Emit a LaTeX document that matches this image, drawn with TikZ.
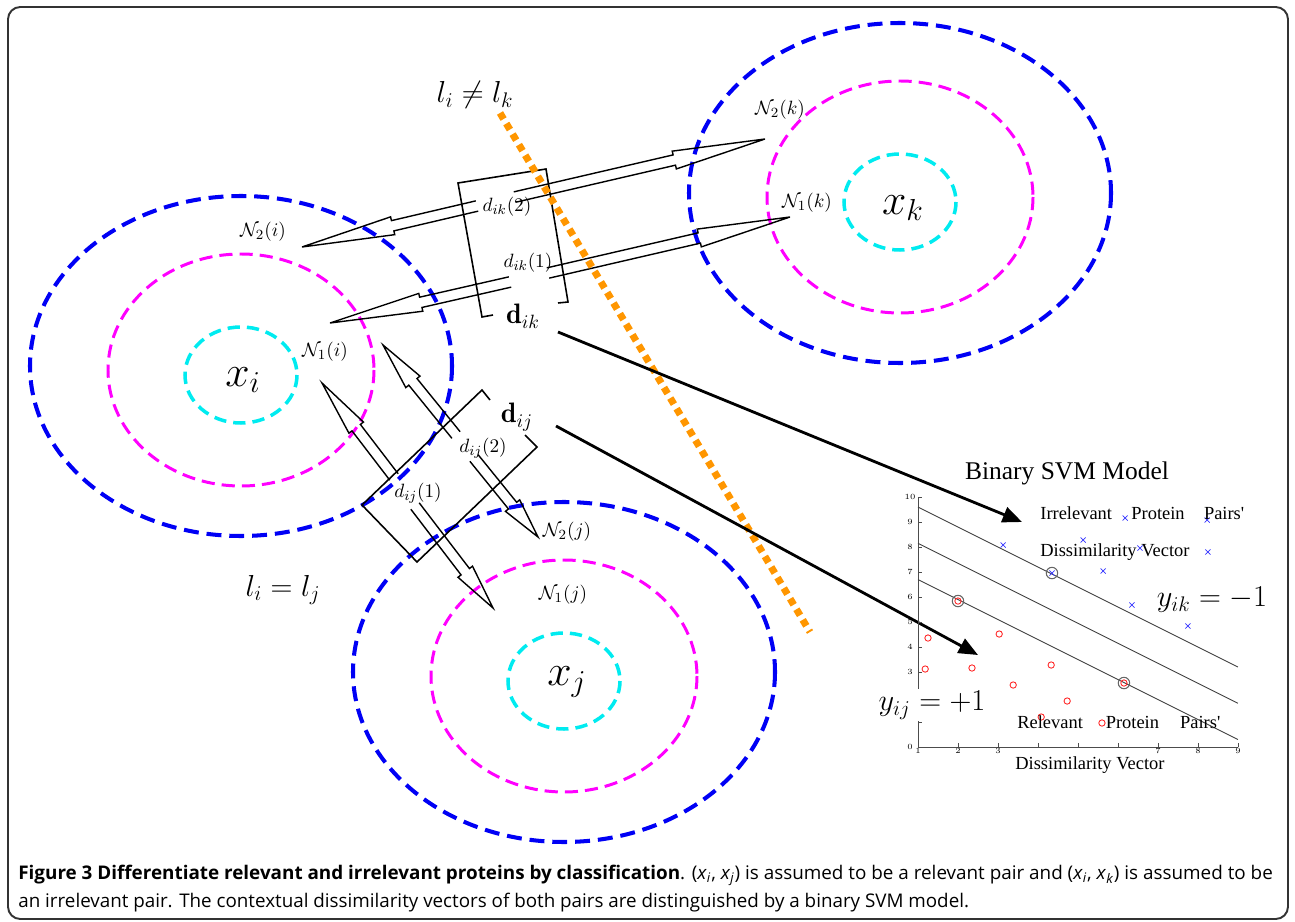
\documentclass[tikz,border=0pt]{standalone}
\usepackage{amsmath, amssymb}
\usepackage{graphicx}
\usepackage{fontspec}
\newfontfamily\svmfont{Liberation Serif}
\newfontfamily\capfont{Open Sans}
\usepackage{tikz}
\usetikzlibrary{calc, arrows.meta, shapes.misc}

\definecolor{nbblue}{RGB}{0,0,245}
\definecolor{nbmag}{RGB}{255,0,255}
\definecolor{nbcyan}{RGB}{0,235,240}
\definecolor{cutorange}{RGB}{255,150,0}

% one half of a hollow double arrow: shaft end, tip, head length
\newcommand{\openhead}[3]{%
  \coordinate (hb) at ($(#2)!#3!(#1)$);
  \draw[shaft] ($(#1)!3pt!90:(#2)$) -- ($(hb)!3pt!90:(#2)$) -- ($(hb)!5.2pt!90:(#2)$) -- (#2)
    -- ($(hb)!5.2pt!-90:(#2)$) -- ($(hb)!3pt!-90:(#2)$) -- ($(#1)!3pt!-90:(#2)$);}

\begin{document}
\begin{tikzpicture}[x=0.02cm, y=-0.02cm,
    outer/.style={nbblue, line width=2.3pt, dash pattern=on 8.5pt off 4.5pt},
    middle/.style={nbmag, line width=1.7pt, dash pattern=on 7.5pt off 4pt},
    inner/.style={nbcyan, line width=2pt, dash pattern=on 7pt off 4pt},
    centre/.style={font=\fontsize{25}{28}\selectfont},
    lbl/.style={inner sep=1pt, font=\fontsize{11}{13}\selectfont},
    vec/.style={inner sep=1pt, font=\fontsize{16}{18}\selectfont},
    rule/.style={font=\fontsize{17}{20}\selectfont},
    shaft/.style={line width=0.8pt},
    bracket/.style={line width=0.9pt},
    cut/.style={cutorange, line width=4pt, dash pattern=on 4pt off 3pt},
    mapto/.style={line width=1.6pt, -{Triangle[length=11pt,width=9pt]}},
    irr/.style={cross out, draw=blue!80, minimum size=2.5pt, inner sep=0pt, line width=0.4pt},
    rel/.style={circle, draw=red!85, minimum size=3.6pt, inner sep=0pt, line width=0.5pt},
    sv/.style={circle, draw=black!60, minimum size=6.5pt, inner sep=0pt, line width=0.6pt},
    tick/.style={inner sep=0pt, font=\fontsize{4.5}{5}\selectfont},
    svmtext/.style={inner sep=0pt, anchor=west, font=\svmfont\fontsize{10.5}{12}\selectfont},
    label/.style={fill=white, inner sep=1pt, font=\fontsize{17.5}{20}\selectfont}]
\useasboundingbox (0,0) rectangle (1295,922);

% neighbourhoods
\foreach \cx/\cy in {241/370, 900/197, 564/676} {
  \draw[outer] (\cx,\cy-4) ellipse [x radius=211, y radius=170];
  \draw[middle] (\cx,\cy) ellipse [x radius=133, y radius=116];
  \draw[inner] (\cx,\cy+5) ellipse [x radius=56, y radius=48];
}
\node[centre] (xi) at (243,380) {$x_i$};
\node[centre] (xk) at (903,208) {$x_k$};
\node[centre] (xj) at (567,682) {$x_j$};

\node[lbl] (n2i) at (263,232) {$\mathcal{N}_2(i)$};
\node[lbl] (n1i) at (325,352) {$\mathcal{N}_1(i)$};
\node[lbl] (n2k) at (780,110) {$\mathcal{N}_2(k)$};
\node[lbl] (n1k) at (807,203) {$\mathcal{N}_1(k)$};
\node[lbl] (n2j) at (567,532) {$\mathcal{N}_2(j)$};
\node[lbl] (n1j) at (563,595) {$\mathcal{N}_1(j)$};

\node[lbl] (dik2) at (507,207) {$d_{ik}(2)$};
\node[lbl] (dik1) at (528,263) {$d_{ik}(1)$};
\node[lbl] (dij2) at (483,448) {$d_{ij}(2)$};
\node[lbl] (dij1) at (418,493) {$d_{ij}(1)$};
\node[vec] (dik) at (523,316) {$\mathbf{d}_{ik}$};
\node[vec] (dij) at (517,417) {$\mathbf{d}_{ij}$};

\node[rule] (neq) at (475,95) {$l_i \neq l_k$};
\node[rule] (eq) at (283,590) {$l_i = l_j$};

% dissimilarity vectors
\coordinate (t2i) at (302,247); \coordinate (s2i) at (477,206);
\coordinate (t2k) at (765,139); \coordinate (s2k) at (515,197);
\coordinate (t1i) at (330,323); \coordinate (s1i) at (510,282);
\coordinate (t1k) at (790,217); \coordinate (s1k) at (548,273);
\coordinate (u2i) at (383,345); \coordinate (r2i) at (456,435);
\coordinate (u2j) at (538,537); \coordinate (r2j) at (474,458);
\coordinate (u1i) at (322,383); \coordinate (r1i) at (394,477);
\coordinate (u1j) at (493,608); \coordinate (r1j) at (415,506);
\openhead{s2i}{t2i}{53pt} \openhead{s2k}{t2k}{53pt}
\openhead{s1i}{t1i}{53pt} \openhead{s1k}{t1k}{53pt}
\openhead{r2i}{u2i}{27pt} \openhead{r2j}{u2j}{23pt}
\openhead{r1i}{u1i}{32pt} \openhead{r1j}{u1j}{26pt}

\draw[bracket] (493,315) -- (482,317) -- (458,183) -- (546,169) -- (568,302) -- (558,303);
\draw[bracket] (490,400) -- (482,390) -- (362,505) -- (417,562) -- (537,447) -- (525,435);

% class boundary
\coordinate (cutA) at (500,113);
\coordinate (cutB) at (810,632);
\draw[cut] (cutA) -- (cutB);

% to the classifier
\coordinate (dikout) at (558,332);
\coordinate (dijout) at (556,426);
\coordinate (toirr) at (1022,522);
\coordinate (torel) at (978,655);
\draw[mapto] (dikout) -- (toirr);
\draw[mapto] (dijout) -- (torel);

% SVM model
\begin{scope}[shift={(878,747)}, x=0.8cm, y=0.5cm]
  \draw[line width=0.5pt, black!70] (1,10) -- (1,0) -- (9,0);
  \foreach \t in {0,...,10}
    \draw[line width=0.3pt, black!70] (1,\t) -- +(2pt,0);
  \foreach \t in {0,3,4,5,6,7,8,9,10}
    \node[tick] at (0.8,\t) {\t};
  \foreach \t in {1,...,9}
    \draw[line width=0.3pt, black!70] (\t,0) -- +(0,2pt);
  \foreach \t in {1,2,3,7,8,9}
    \node[tick] at (\t,-0.17) {\t};
  \draw[line width=0.5pt, black!75] (1,9.6) -- (9,3.2);
  \draw[line width=0.5pt, black!75] (1,8.15) -- (9,1.75);
  \draw[line width=0.5pt, black!75] (1,6.7) -- (9,0.3);
  \foreach \a/\b in {3.13/8.08, 5.13/8.28, 6.18/9.16, 6.55/7.96, 5.63/7.04, 4.35/6.96,
      6.35/5.68, 7.75/4.84, 8.23/9.08, 8.25/7.8}
    \node[irr] at (\a,\b) {};
  \foreach \a/\b in {1.25/4.36, 1.18/3.12, 2.0/5.84, 2.35/3.16, 3.03/4.52, 3.38/2.48,
      4.33/3.28, 4.73/1.84, 4.08/1.2, 5.6/0.96, 6.15/2.56}
    \node[rel] at (\a,\b) {};
  \foreach \a/\b in {4.35/6.96, 2.0/5.84, 6.15/2.56}
    \node[sv] at (\a,\b) {};
\end{scope}

\node[font=\svmfont\fontsize{14.5}{16}\selectfont] (svm) at (1067,473) {Binary SVM Model};
\node[svmtext] (irrtxt) at (1040,513) {Irrelevant\hspace{11pt}Protein\hspace{11pt}Pairs'};
\node[svmtext] (irrvec) at (1040,552) {Dissimilarity Vector};
\node[svmtext] (reltxt) at (1017,722) {Relevant\hspace{13pt}Protein\hspace{12pt}Pairs'};
\node[svmtext] (relvec) at (1015,765) {Dissimilarity Vector};
\node[label] (yij) at (932,705) {$y_{ij} = +1$};
\node[label] (yik) at (1212,600) {$y_{ik} = -1$};

% caption
\node[anchor=north west, inner sep=0pt, align=left,
      font=\capfont\fontsize{10.7}{16}\selectfont] (cap) at (18,865)
  {\resizebox{714pt}{\height}{\textbf{Figure 3 Differentiate relevant and irrelevant proteins by classification}.
   (\textit{x}\textsubscript{\textit{i}}, \textit{x}\textsubscript{\textit{j}}) is assumed to be a relevant pair and
   (\textit{x}\textsubscript{\textit{i}}, \textit{x}\textsubscript{\textit{k}}) is assumed to be}\\
   an irrelevant pair. The contextual dissimilarity vectors of both pairs are distinguished by a binary SVM model.};

\draw[rounded corners=7pt, line width=1.1pt, black!80] (8,7) rectangle (1288,919);
\end{tikzpicture}
\end{document}
